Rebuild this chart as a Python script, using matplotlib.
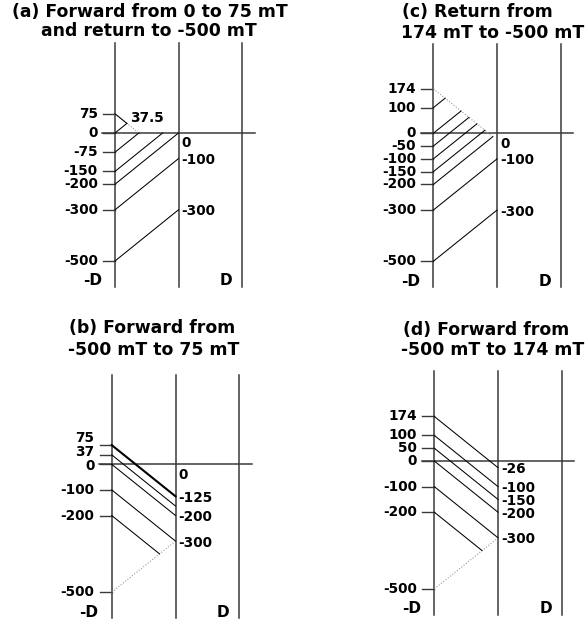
import matplotlib
matplotlib.use("Agg")
from matplotlib import pyplot as plt

# field (mT) swept per unit of D along the diagrams
SLOPE = 200.0

# (a) forward from 0 to 75 mT and return to -500 mT
ticks_a = [75, 0, -75, -150, -200, -300, -500]
solid_a = [(75, 37.5), (0, 37.5), (-75, 0), (-150, 0), (-200, 0),
           (-300, -100), (-500, -300)]
dotted_a = [(75, 0)]
thick_a = []
mid_a = [0, -100, -300]

# (b) forward from -500 mT to 75 mT
ticks_b = [75, 37, 0, -100, -200, -500]
solid_b = [(37, -163), (0, -200), (-100, -300), (-200, -350)]
dotted_b = [(-500, -300)]
thick_b = [(75, -125)]
mid_b = [0, -125, -200, -300]

# (c) return from 174 mT to -500 mT
ticks_c = [174, 100, 0, -50, -100, -150, -200, -300, -500]
solid_c = [(100, 137), (0, 87), (-50, 62), (-100, 37), (-150, 12),
           (-200, -13), (-300, -100), (-500, -300)]
dotted_c = [(174, -13)]
thick_c = []
mid_c = [0, -100, -300]

# (d) forward from -500 mT to 174 mT
ticks_d = [174, 100, 50, 0, -100, -200, -500]
solid_d = [(174, -26), (100, -100), (50, -150), (0, -200), (-100, -300),
           (-200, -350)]
dotted_d = [(-500, -300)]
thick_d = []
mid_d = [-26, -100, -150, -200, -300]

titles = [
    ("(a) Forward from 0 to 75 mT", "and return to -500 mT"),
    ("(b) Forward from", "-500 mT to 75 mT"),
    ("(c) Return from", "174 mT to -500 mT"),
    ("(d) Forward from", "-500 mT to 174 mT"),
]

W, H = 587, 623
AXIS_C = "#3a3a3a"
XLIM = (-1.9, 1.35)
YLIM = (-612, 368)

fig = plt.figure(figsize=(W / 100, H / 100), dpi=100)


def make_axes(xl, sx, y0, sy=0.256):
    # xl: pixel of -D, sx: pixels per D, y0: pixel of 0 mT, sy: pixels per mT
    left = xl + (XLIM[0] + 1) * sx
    width = (XLIM[1] - XLIM[0]) * sx
    top = y0 - YLIM[1] * sy
    height = (YLIM[1] - YLIM[0]) * sy
    ax = fig.add_axes([left / W, 1 - (top + height) / H, width / W, height / H])
    ax.set_xlim(XLIM)
    ax.set_ylim(YLIM)
    ax.axis("off")
    return ax


def branch(v0, v1):
    return [-1, -1 + abs(v1 - v0) / SLOPE], [v0, v1]


def draw_panel(ax, ticks, solid, dotted, thick, mid, nudge=None):
    nudge = nudge or {}
    for x in (-1, 0, 1):
        ax.plot([x, x], [-600, 350], color=AXIS_C, lw=1.1)
    ax.plot([-1.2, 1.2], [0, 0], color=AXIS_C, lw=1.1)

    for v in ticks:
        ax.plot([-1.19, -1], [v, v], color=AXIS_C, lw=1.0)
        ax.text(-1.27, v + nudge.get(v, 0), f"{v:g}", ha="right", va="center",
                fontsize=9.8, fontweight="bold")

    for v0, v1 in dotted:
        xs, ys = branch(v0, v1)
        ax.plot(xs, ys, color="#9a9a9a", lw=0.8, linestyle=(0, (1, 1.6)))
    for v0, v1 in solid:
        xs, ys = branch(v0, v1)
        ax.plot(xs, ys, color="black", lw=0.75)
    for v0, v1 in thick:
        xs, ys = branch(v0, v1)
        ax.plot(xs, ys, color="black", lw=1.5)

    for v in mid:
        y = -40 if v == 0 else v - 6
        ax.text(0.05, y, f"{v:g}", ha="left", va="center",
                fontsize=9.8, fontweight="bold")

    ax.text(-1.36, -578, "-D", ha="center", va="center",
            fontsize=11, fontweight="bold")
    ax.text(0.75, -578, "D", ha="center", va="center",
            fontsize=11, fontweight="bold")


ax_a = make_axes(115, 63.5, 133)
ax_c = make_axes(433.3, 63.7, 133.3)
ax_b = make_axes(111.7, 63.8, 464.3)
ax_d = make_axes(434.3, 63.7, 461)

draw_panel(ax_a, ticks_a, solid_a, dotted_a, thick_a, mid_a)
# the 75, 37 and 0 labels sit close together, spread them a little
draw_panel(ax_b, ticks_b, solid_b, dotted_b, thick_b, mid_b,
           nudge={75: 26, 37: 11, 0: -5})
draw_panel(ax_c, ticks_c, solid_c, dotted_c, thick_c, mid_c)
draw_panel(ax_d, ticks_d, solid_d, dotted_d, thick_d, mid_d)

ax_a.text(-0.76, 57, "37.5", ha="left", va="center",
          fontsize=9.8, fontweight="bold")

# title lines: (centre x px, baseline y px)
title_pos = [
    ((150, 17), (149, 36)),
    ((152, 333), (154, 355)),
    ((477, 17), (493, 38)),
    ((486, 335), (493, 355)),
]
for (l1, l2), (p1, p2) in zip(titles, title_pos):
    for txt, (px, py) in ((l1, p1), (l2, p2)):
        fig.text(px / W, 1 - py / H, txt, ha="center", va="baseline",
                 fontsize=12.4, fontweight="bold")

fig.savefig("out.png", dpi=100)
